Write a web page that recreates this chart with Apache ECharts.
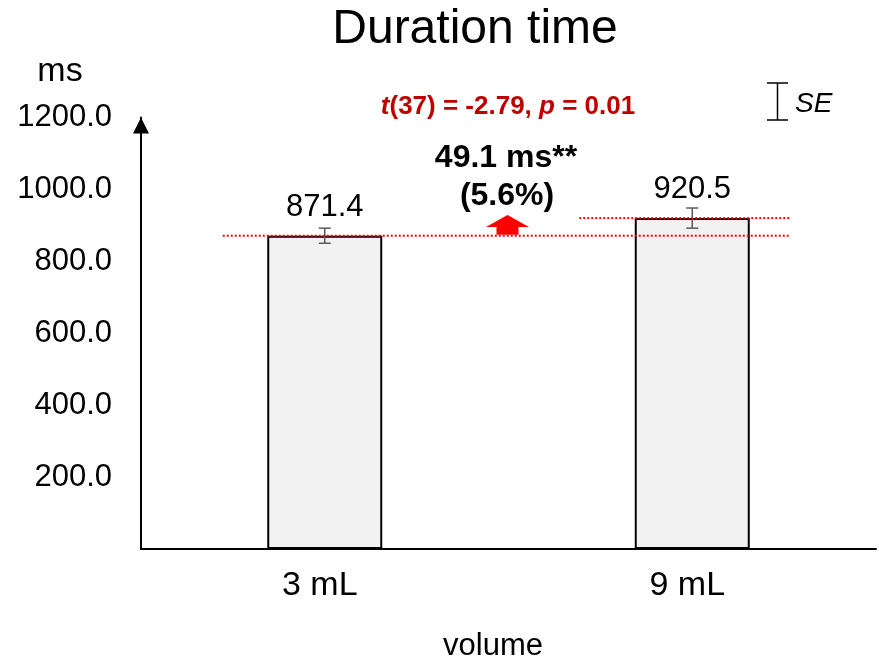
<!DOCTYPE html>
<html>
<head>
<meta charset="utf-8">
<script src="https://cdn.jsdelivr.net/npm/echarts@6/dist/echarts.min.js"></script>
<style>
  html, body { margin: 0; padding: 0; background: #fff; }
  #chart { width: 879px; height: 661px; }
</style>
</head>
<body>
<div id="chart"></div>
<script>
// ---- data ----
const categories = ['3 mL', '9 mL'];
const means = [871.4, 920.5];
const seValues = [21, 28];
const yTicks = [0, 200, 400, 600, 800, 1000, 1200];
const statText = ['t', '(37) = -2.79, ', 'p', ' = 0.01'];
const diffText = ['49.1 ms**', '(5.6%)'];

const FONT = 'Liberation Sans, Arial, sans-serif';

const chart = echarts.init(document.getElementById('chart'));

const errData = means.map((m, i) => [i, m, seValues[i]]);

const option = {
  backgroundColor: '#fff',
  animation: false,
  grid: { left: 141, right: 3, top: 117.6, bottom: 112, containLabel: false },
  xAxis: {
    type: 'category',
    data: categories,
    axisLine: { show: true, lineStyle: { color: '#000', width: 2 } },
    axisTick: { show: false },
    axisLabel: { fontSize: 34, color: '#000', fontFamily: FONT, margin: 20, padding: [0, 10, 0, 0] },
    splitLine: { show: false }
  },
  yAxis: {
    type: 'value',
    min: yTicks[0],
    max: yTicks[yTicks.length - 1],
    interval: yTicks[1] - yTicks[0],
    axisLine: {
      show: true,
      lineStyle: { color: '#000', width: 2 },
      symbol: ['none', 'triangle'],
      symbolSize: [16, 16],
      symbolOffset: [0, -8]
    },
    axisTick: { show: false },
    splitLine: { show: false },
    axisLabel: {
      fontSize: 31, color: '#000', fontFamily: FONT, margin: 29,
      formatter: v => (v === 0 ? '' : v.toFixed(1))
    }
  },
  series: [
    {
      type: 'bar',
      data: means,
      barWidth: 115,
      z: 2,
      itemStyle: { color: '#f2f2f2', borderColor: '#000', borderWidth: 2 },
      label: {
        show: true, position: 'top', distance: 13,
        fontSize: 31, color: '#000', fontFamily: FONT,
        formatter: p => p.value.toFixed(1)
      }
    },
    {
      // error bars (SE)
      type: 'custom',
      data: errData,
      encode: { x: 0, y: 1 },
      z: 4,
      renderItem: function (params, api) {
        const i = api.value(0), m = api.value(1), s = api.value(2);
        const top = api.coord([i, m + s]);
        const bot = api.coord([i, m - s]);
        const hw = 6;
        const st = { stroke: '#595959', lineWidth: 1.5 };
        return {
          type: 'group',
          children: [
            { type: 'line', shape: { x1: top[0], y1: top[1], x2: bot[0], y2: bot[1] }, style: st },
            { type: 'line', shape: { x1: top[0] - hw, y1: top[1], x2: top[0] + hw, y2: top[1] }, style: st },
            { type: 'line', shape: { x1: bot[0] - hw, y1: bot[1], x2: bot[0] + hw, y2: bot[1] }, style: st }
          ]
        };
      }
    },
    {
      // red dotted reference lines at each mean level
      type: 'custom',
      data: means.map((m, i) => [i, m]),
      encode: { x: 0, y: 1 },
      z: 5,
      renderItem: function (params, api) {
        const i = api.value(0), m = api.value(1);
        const p = api.coord([i, m]);
        const c0 = api.coord([0, m]);
        const c1 = api.coord([1, m]);
        const x1 = i === 0 ? c0[0] - 102 : c1[0] - 113;
        const x2 = c1[0] + 98;
        return {
          type: 'line',
          shape: { x1: x1, y1: p[1], x2: x2, y2: p[1] },
          style: { stroke: '#ff0000', lineWidth: 2, lineDash: [2, 2] }
        };
      }
    },
    {
      // red upward arrow showing the increase
      type: 'custom',
      data: [[0, means[0], means[1]]],
      encode: { x: 0, y: [1, 2] },
      z: 6,
      renderItem: function (params, api) {
        const lo = api.value(1), hi = api.value(2);
        const a = api.coord([0, lo]);
        const b = api.coord([1, hi]);
        const cx = (a[0] + b[0]) / 2 - 1;
        const yBase = a[1] - 1;
        const yTip = b[1] - 3;
        const yNeck = yTip + 12;
        const hw = 21.5, sw = 11;
        return {
          type: 'polygon',
          shape: {
            points: [
              [cx, yTip], [cx + hw, yNeck], [cx + sw, yNeck], [cx + sw, yBase],
              [cx - sw, yBase], [cx - sw, yNeck], [cx - hw, yNeck]
            ]
          },
          style: { fill: '#ff0000' }
        };
      }
    }
  ],
  graphic: [
    {
      type: 'text', x: 475, y: 30,
      style: { text: 'Duration time', font: '48px ' + FONT, fill: '#000', textAlign: 'center', textVerticalAlign: 'middle' }
    },
    {
      type: 'text', x: 60, y: 72,
      style: { text: 'ms', font: '34px ' + FONT, fill: '#000', textAlign: 'center', textVerticalAlign: 'middle' }
    },
    {
      type: 'text', x: 493, y: 646,
      style: { text: 'volume', font: '31px ' + FONT, fill: '#000', textAlign: 'center', textVerticalAlign: 'middle' }
    },
    {
      type: 'text', x: 508, y: 107,
      style: {
        text: '{i|' + statText[0] + '}{b|' + statText[1] + '}{i|' + statText[2] + '}{b|' + statText[3] + '}',
        textAlign: 'center', textVerticalAlign: 'middle',
        rich: {
          i: { fontSize: 26, fontWeight: 'bold', fontStyle: 'italic', fontFamily: FONT, fill: '#c00000', color: '#c00000' },
          b: { fontSize: 26, fontWeight: 'bold', fontFamily: FONT, fill: '#c00000', color: '#c00000' }
        }
      }
    },
    {
      type: 'text', x: 506, y: 158,
      style: { text: diffText[0], font: 'bold 32px ' + FONT, fill: '#000', textAlign: 'center', textVerticalAlign: 'middle' }
    },
    {
      type: 'text', x: 507, y: 196,
      style: { text: diffText[1], font: 'bold 32px ' + FONT, fill: '#000', textAlign: 'center', textVerticalAlign: 'middle' }
    },
    // SE legend
    { type: 'line', shape: { x1: 777.5, y1: 83, x2: 777.5, y2: 120 }, style: { stroke: '#000', lineWidth: 1.5 } },
    { type: 'line', shape: { x1: 767, y1: 83, x2: 788, y2: 83 }, style: { stroke: '#000', lineWidth: 1.5 } },
    { type: 'line', shape: { x1: 767, y1: 120, x2: 788, y2: 120 }, style: { stroke: '#000', lineWidth: 1.5 } },
    {
      type: 'text', x: 795, y: 104,
      style: { text: 'SE', font: 'italic 28px ' + FONT, fill: '#000', textAlign: 'left', textVerticalAlign: 'middle' }
    }
  ]
};

chart.setOption(option);
</script>
</body>
</html>
